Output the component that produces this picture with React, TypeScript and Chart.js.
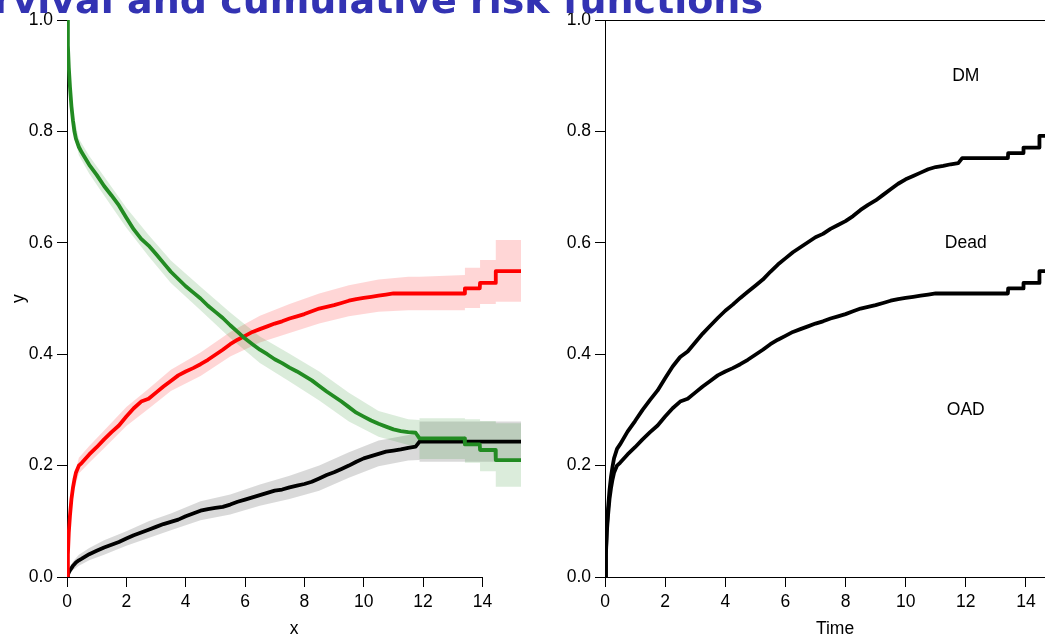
import React, { useEffect, useRef } from 'react';
import { Chart, registerables } from 'chart.js';

Chart.register(...registerables);

// Follow-up time (years) at which the curves are evaluated; close pairs mark the late jumps
const times = [
  0, 0.03, 0.06, 0.1, 0.15, 0.2, 0.25, 0.3, 0.4,
  0.5, 0.75, 1, 1.25, 1.5, 1.75, 2, 2.25, 2.5, 2.75,
  3, 3.25, 3.5, 3.75, 4, 4.25, 4.5, 4.75, 5, 5.25,
  5.5, 5.75, 6, 6.25, 6.5, 6.75, 7, 7.25, 7.5, 7.75,
  8, 8.25, 8.5, 8.75, 9, 9.25, 9.5, 9.75, 10, 10.25,
  10.5, 10.75, 11, 11.25, 11.5, 11.75, 11.88, 13.4, 13.41, 13.91, 13.92, 14.44, 14.45, 15.3,
];

// Probability of being alive without DM (green)
const dmFree = [
  1.0, 0.955, 0.915, 0.88, 0.845, 0.82, 0.8, 0.787, 0.772,
  0.762, 0.74, 0.722, 0.702, 0.685, 0.667, 0.645, 0.624, 0.607, 0.595,
  0.58, 0.564, 0.548, 0.535, 0.522, 0.511, 0.5, 0.487, 0.476, 0.465,
  0.452, 0.44, 0.428, 0.418, 0.408, 0.4, 0.391, 0.384, 0.376, 0.369,
  0.361, 0.353, 0.343, 0.333, 0.324, 0.315, 0.305, 0.295, 0.288, 0.281,
  0.275, 0.27, 0.265, 0.262, 0.26, 0.259, 0.249, 0.249, 0.238, 0.238, 0.228, 0.228, 0.21, 0.21,
];

// Cumulative incidence of OAD (red)
const oad = [
  0, 0.04, 0.08, 0.11, 0.14, 0.16, 0.175, 0.187, 0.2,
  0.205, 0.22, 0.233, 0.247, 0.26, 0.272, 0.288, 0.303, 0.315, 0.32,
  0.331, 0.342, 0.352, 0.362, 0.369, 0.375, 0.382, 0.39, 0.399, 0.408,
  0.418, 0.426, 0.433, 0.44, 0.445, 0.45, 0.455, 0.459, 0.464, 0.468,
  0.472, 0.477, 0.482, 0.485, 0.488, 0.492, 0.496, 0.499, 0.501, 0.503,
  0.505, 0.507, 0.509, 0.509, 0.509, 0.509, 0.509, 0.509, 0.518, 0.518, 0.528, 0.528, 0.549, 0.549,
];

// Cumulative incidence of death (black)
const dead = [
  0, 0.004, 0.008, 0.012, 0.016, 0.02, 0.023, 0.026, 0.03,
  0.033, 0.041, 0.047, 0.053, 0.058, 0.063, 0.069, 0.075, 0.08, 0.085,
  0.09, 0.095, 0.099, 0.103, 0.109, 0.114, 0.119, 0.122, 0.124, 0.126,
  0.13, 0.135, 0.139, 0.143, 0.147, 0.151, 0.155, 0.157, 0.161, 0.164,
  0.167, 0.171, 0.177, 0.183, 0.188, 0.194, 0.2, 0.207, 0.213, 0.217,
  0.221, 0.225, 0.227, 0.229, 0.232, 0.234, 0.243, 0.243, 0.243, 0.243, 0.243, 0.243, 0.243, 0.243,
];

// Times for the confidence bands (repeated times mark the jumps)
const bandTimes = [
  0, 0.1, 0.2, 0.4, 0.75, 1.25, 2, 2.75, 3.5, 4.5, 5.5, 6.5, 7.5, 8.5, 9.5,
  10.5, 11.5, 11.88, 11.88, 13.41, 13.41, 13.92, 13.92, 14.45, 14.45, 15.3,
];
const dmFreeLow = [
  1.0, 0.865, 0.805, 0.757, 0.724, 0.685, 0.627, 0.576, 0.528, 0.479, 0.429, 0.384, 0.351, 0.317, 0.279,
  0.252, 0.237, 0.236, 0.212, 0.212, 0.205, 0.205, 0.19, 0.19, 0.162, 0.162,
];
const dmFreeHigh = [
  1.0, 0.895, 0.835, 0.787, 0.756, 0.719, 0.663, 0.614, 0.568, 0.521, 0.475, 0.432, 0.401, 0.369, 0.331,
  0.298, 0.283, 0.282, 0.285, 0.285, 0.283, 0.283, 0.28, 0.28, 0.276, 0.276,
];
const oadLow = [
  0, 0.1, 0.148, 0.186, 0.205, 0.231, 0.271, 0.302, 0.334, 0.361, 0.396, 0.421, 0.438, 0.455, 0.468,
  0.476, 0.479, 0.479, 0.479, 0.479, 0.483, 0.483, 0.49, 0.49, 0.494, 0.494,
];
const oadHigh = [
  0.005, 0.12, 0.172, 0.214, 0.235, 0.263, 0.305, 0.338, 0.372, 0.403, 0.44, 0.469, 0.49, 0.509, 0.524,
  0.534, 0.539, 0.539, 0.539, 0.542, 0.555, 0.555, 0.569, 0.569, 0.605, 0.605,
];
const deadLow = [
  0, 0.006, 0.012, 0.02, 0.03, 0.04, 0.056, 0.07, 0.084, 0.102, 0.112, 0.128, 0.14, 0.155, 0.178,
  0.199, 0.209, 0.21, 0.207, 0.207, 0.207, 0.207, 0.207, 0.207, 0.207, 0.207,
];
const deadHigh = [
  0.003, 0.018, 0.028, 0.04, 0.052, 0.066, 0.082, 0.1, 0.114, 0.136, 0.148, 0.166, 0.182, 0.2, 0.224,
  0.245, 0.255, 0.256, 0.279, 0.279, 0.279, 0.279, 0.279, 0.279, 0.279, 0.279,
];

// Region labels of the stacked panel
const regionLabels = ['DM', 'Dead', 'OAD'];
const regionLabelY = [0.9, 0.6, 0.3];
const regionLabelX = 12;

const TITLE = 'Survival and cumulative risk functions';
const FONT = "'Liberation Sans', Arial, Helvetica, sans-serif";
const FONT_SIZE = 17.5;
const X_MAX = 15.3;

const pts = (xs: number[], ys: number[]) => xs.map((x, i) => ({ x, y: ys[i] }));

const curve = (label: string, data: any, color: string) => ({
  label,
  data,
  borderColor: color,
  borderWidth: 3.8,
  borderJoinStyle: 'round',
  borderCapStyle: 'round',
  pointRadius: 0,
  fill: false,
  order: 0,
});

const bandEdge = (data: any) => ({
  data,
  borderWidth: 0,
  borderColor: 'transparent',
  pointRadius: 0,
  fill: false,
  order: 10,
});

const bandTop = (data: any, lowIndex: number, color: string) => ({
  data,
  borderWidth: 0,
  borderColor: 'transparent',
  backgroundColor: color,
  pointRadius: 0,
  fill: lowIndex,
  order: 10,
});

const tickGrid = {
  display: true,
  drawOnChartArea: false,
  drawTicks: true,
  tickLength: 10,
  color: '#000',
  lineWidth: 1,
};

const tickFont = { family: FONT, size: FONT_SIZE };

function xScale(border: boolean) {
  return {
    type: 'linear',
    min: 0,
    max: X_MAX,
    border: { display: border, color: '#000', width: 1 },
    grid: tickGrid,
    ticks: {
      stepSize: 2,
      includeBounds: false,
      autoSkip: false,
      maxRotation: 0,
      color: '#000',
      font: tickFont,
      padding: 5,
      callback: (v: any) => String(v),
    },
    afterFit: (s: any) => {
      s.height = 57;
    },
  };
}

function yScale(width: number, stacked: boolean) {
  return {
    type: 'linear',
    min: 0,
    max: 1,
    stacked,
    border: { display: true, color: '#000', width: 1 },
    grid: tickGrid,
    ticks: {
      stepSize: 0.2,
      color: '#000',
      font: tickFont,
      padding: 4,
      callback: (v: any) => Number(v).toFixed(1),
    },
    afterFit: (s: any) => {
      s.width = width;
    },
  };
}

function drawAxisTitles(chart: any, xTitle: string, yTitle: string, yTitleX: number) {
  const { ctx, chartArea } = chart;
  ctx.save();
  ctx.fillStyle = '#000';
  ctx.font = `${FONT_SIZE}px ${FONT}`;
  ctx.textAlign = 'center';
  ctx.textBaseline = 'alphabetic';
  ctx.fillText(xTitle, (chartArea.left + chartArea.right) / 2, 633.5);
  ctx.translate(yTitleX, (chartArea.top + chartArea.bottom) / 2);
  ctx.rotate(-Math.PI / 2);
  ctx.fillText(yTitle, 0, 0);
  ctx.restore();
}

const leftDecor = {
  id: 'leftDecor',
  afterDraw(chart: any) {
    const { ctx, chartArea, scales } = chart;
    const y = Math.round(chartArea.bottom) + 0.5;
    ctx.save();
    ctx.strokeStyle = '#000';
    ctx.lineWidth = 1;
    ctx.beginPath();
    ctx.moveTo(scales.x.getPixelForValue(0), y);
    ctx.lineTo(scales.x.getPixelForValue(14), y);
    ctx.stroke();
    ctx.restore();
    drawAxisTitles(chart, 'x', 'y', 23.5);
  },
};

const rightDecor = {
  id: 'rightDecor',
  afterDraw(chart: any) {
    const { ctx, chartArea, scales } = chart;
    ctx.save();
    ctx.strokeStyle = '#000';
    ctx.lineWidth = 1;
    ctx.beginPath();
    const top = Math.round(chartArea.top) + 0.5;
    ctx.moveTo(chartArea.left, top);
    ctx.lineTo(chartArea.right, top);
    ctx.stroke();
    ctx.fillStyle = '#000';
    ctx.font = `${FONT_SIZE}px ${FONT}`;
    ctx.textAlign = 'center';
    ctx.textBaseline = 'middle';
    regionLabels.forEach((t, i) => {
      ctx.fillText(t, scales.x.getPixelForValue(regionLabelX), scales.y.getPixelForValue(regionLabelY[i]));
    });
    ctx.restore();
    drawAxisTitles(chart, 'Time', 'Cumulative incidence', 561);
  },
};

const baseOptions = {
  responsive: false,
  animation: false,
  events: [],
  plugins: { legend: { display: false }, tooltip: { enabled: false }, title: { display: false } },
};

function leftConfig(): any {
  return {
    type: 'line',
    data: {
      datasets: [
        curve('DM-free', pts(times, dmFree), '#228B22'),
        curve('OAD', pts(times, oad), '#FF0000'),
        curve('Dead', pts(times, dead), '#000000'),
        bandEdge(pts(bandTimes, dmFreeLow)),
        bandTop(pts(bandTimes, dmFreeHigh), 3, 'rgba(34,139,34,0.16)'),
        bandEdge(pts(bandTimes, oadLow)),
        bandTop(pts(bandTimes, oadHigh), 5, 'rgba(255,0,0,0.16)'),
        bandEdge(pts(bandTimes, deadLow)),
        bandTop(pts(bandTimes, deadHigh), 7, 'rgba(0,0,0,0.15)'),
      ],
    },
    options: {
      ...baseOptions,
      layout: { padding: { top: 20, right: 19, left: 0, bottom: 0 } },
      scales: { x: xScale(false), y: yScale(67, false) },
    },
    plugins: [leftDecor],
  };
}

function rightConfig(): any {
  return {
    type: 'line',
    data: {
      datasets: [
        curve('OAD', pts(times, oad), '#000000'),
        curve('Dead', pts(times, dead), '#000000'),
      ],
    },
    options: {
      ...baseOptions,
      layout: { padding: { top: 20, right: 15, left: 0, bottom: 0 } },
      scales: { x: xScale(true), y: yScale(65, true) },
    },
    plugins: [rightDecor],
  };
}

function ChartCanvas({ make, left, width }: { make: () => any; left: number; width: number }) {
  const ref = useRef<HTMLCanvasElement>(null);
  useEffect(() => {
    const chart = new Chart(ref.current as HTMLCanvasElement, make());
    return () => chart.destroy();
  }, [make]);
  return (
    <canvas
      ref={ref}
      width={width}
      height={634}
      style={{ position: 'absolute', left, top: 0, width, height: 634 }}
    />
  );
}

export default function App() {
  return (
    <div
      style={{
        position: 'fixed',
        left: 0,
        top: 0,
        width: 1045,
        height: 634,
        overflow: 'hidden',
        background: '#fff',
      }}
    >
      <ChartCanvas make={leftConfig} left={0} width={540} />
      <ChartCanvas make={rightConfig} left={540} width={540} />
      <div
        style={{
          position: 'absolute',
          right: 1045 - 763,
          top: -19.5,
          font: "bold 38px 'DejaVu Sans', sans-serif",
          lineHeight: '38px',
          color: 'rgb(51,51,179)',
          whiteSpace: 'nowrap',
        }}
      >
        {TITLE}
      </div>
    </div>
  );
}
